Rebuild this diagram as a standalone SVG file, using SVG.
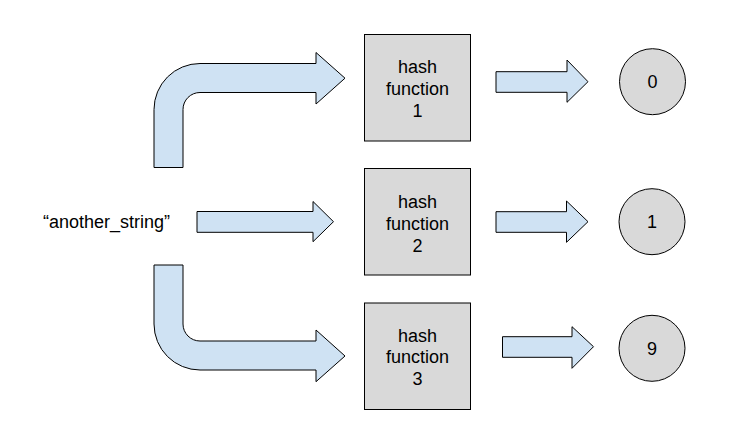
<svg xmlns="http://www.w3.org/2000/svg" width="750" height="444" viewBox="0 0 750 444">
<style>
.arr{fill:#cfe2f3;stroke:#000;stroke-width:1;stroke-linejoin:miter}
.box{fill:#d9d9d9;stroke:#000;stroke-width:1}
.t{font-family:"Liberation Sans",Arial,sans-serif;font-size:18px;fill:#000;text-anchor:middle}
</style>
<rect width="750" height="444" fill="#fff"/>
<g id="connectors">
<path class="arr" d="M154,167.5 L154,109.5 A46,46 0 0 1 200,63.5 L316,63.5 L316,52.5 L345,78.2 L316,104 L316,92.5 L200,92.5 A17,17 0 0 0 183,109.5 L183,167.5 Z"/>
<path class="arr" d="M197,211.5 L313,211.5 L313,201.5 L333.5,221.7 L313,241.7 L313,232.3 L197,232.3 Z"/>
<path class="arr" d="M154,265 L154,324 A46,46 0 0 0 200,370 L316,370 L316,381.7 L345,356 L316,330 L316,341 L200,341 A17,17 0 0 1 183,324 L183,265 Z"/>
<path class="arr" d="M496,71.7 L567,71.7 L567,60 L588,81.7 L567,102.3 L567,92.3 L496,92.3 Z"/>
<path class="arr" d="M496,211.7 L566.5,211.7 L566.5,201 L588,221.7 L566.5,242.3 L566.5,232.3 L496,232.3 Z"/>
<path class="arr" d="M502.5,336.7 L572,336.7 L572,326.7 L593.5,346.7 L572,368.3 L572,357.3 L502.5,357.3 Z"/>
</g>
<g id="input">
<text class="t" x="106.5" y="228">“another_string”</text>
</g>
<g id="hash1">
<rect class="box" x="364.5" y="34.5" width="106" height="106.5"/>
<text class="t" x="417.5" y="73.3">hash</text>
<text class="t" x="417.5" y="94.5">function</text>
<text class="t" x="417.5" y="116.5">1</text>
</g>
<g id="hash2">
<rect class="box" x="364.5" y="168.5" width="106" height="106.5"/>
<text class="t" x="417.5" y="208.3">hash</text>
<text class="t" x="417.5" y="229.5">function</text>
<text class="t" x="417.5" y="251.5">2</text>
</g>
<g id="hash3">
<rect class="box" x="364.5" y="303" width="106" height="106.5"/>
<text class="t" x="417.5" y="342">hash</text>
<text class="t" x="417.5" y="363.3">function</text>
<text class="t" x="417.5" y="385">3</text>
</g>
<g id="out0">
<circle class="box" cx="652.5" cy="81.7" r="33"/>
<text class="t" x="652.5" y="88">0</text>
</g>
<g id="out1">
<circle class="box" cx="652" cy="221.7" r="33"/>
<text class="t" x="652" y="228">1</text>
</g>
<g id="out9">
<circle class="box" cx="652" cy="348.3" r="33"/>
<text class="t" x="652" y="354.6">9</text>
</g>
</svg>
